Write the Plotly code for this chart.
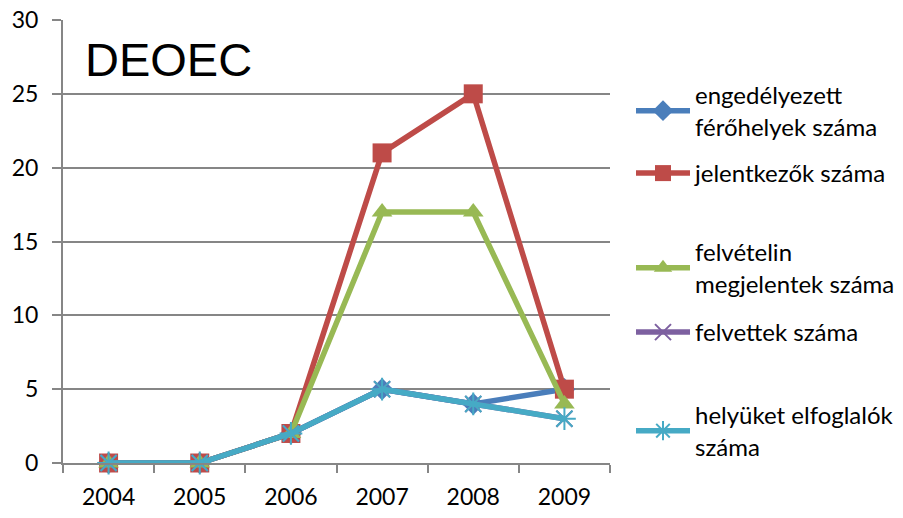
import plotly.graph_objects as go

years = ["2004", "2005", "2006", "2007", "2008", "2009"]
engedelyezett = [0, 0, 2, 5, 4, 5]
jelentkezok = [0, 0, 2, 21, 25, 5]
megjelentek = [0, 0, 2, 17, 17, 4]
felvettek = [0, 0, 2, 5, 4, 3]
elfoglalok = [0, 0, 2, 5, 4, 3]

names = ["engedélyezett<br>férőhelyek száma", "jelentkezők száma",
         "felvételin<br>megjelentek száma", "felvettek száma",
         "helyüket elfoglalók<br>száma"]
series = [engedelyezett, jelentkezok, megjelentek, felvettek, elfoglalok]
colors = ["#4A7EBB", "#BE4B48", "#98B954", "#7D60A0", "#46AAC5"]
symbols = ["diamond", "square", "triangle-up", "x-thin-open", "asterisk-open"]
msizes = [17, 19, 18, 16, 19]
legend_ids = ["legend", "legend2", "legend3", "legend4", "legend5"]

# body margin is removed in the page, so figure pixels equal screen pixels
OFF = 0
W, H = 903 - OFF, 518 - OFF
L, R, T, B = 63 - OFF, 293, 20 - OFF, 55
pw, ph = W - L - R, H - T - B

def px_x(sx):
    return (sx - OFF - L) / pw

def px_y(sy):
    return (H - B - (sy - OFF)) / ph

fig = go.Figure()
for name, vals, c, s, ms, lg in zip(names, series, colors, symbols, msizes, legend_ids):
    open_sym = s.endswith("open")
    fig.add_trace(go.Scatter(
        x=years, y=vals, name=name, mode="lines+markers",
        line=dict(color=c, width=5.5),
        marker=dict(symbol=s, size=ms, color=c,
                    line=dict(color=c, width=2 if open_sym else 0)),
        legend=lg, cliponaxis=False,
    ))

legend_tops = [73, 151, 230, 310, 393]
layout_legends = {}
for lg, top in zip(legend_ids, legend_tops):
    layout_legends[lg] = dict(
        x=px_x(631), y=px_y(top), xanchor="left", yanchor="top",
        font=dict(family="Lato", size=24, color="black"),
        bgcolor="rgba(0,0,0,0)", itemwidth=54, tracegroupgap=0,
    )

fig.update_layout(
    width=W, height=H,
    margin=dict(l=L, r=R, t=T, b=B, autoexpand=False),
    paper_bgcolor="white", plot_bgcolor="white",
    showlegend=True,
    **layout_legends,
    xaxis=dict(
        type="category", tickson="boundaries", ticks="outside", ticklen=8,
        tickcolor="#868686", tickwidth=2, automargin=False,
        showgrid=False, showline=True, linecolor="#868686", linewidth=2,
        tickfont=dict(family="Lato", size=23, color="black"),
        ticklabelstandoff=12, range=[-0.5, 5.5], ticklabeloverflow="allow",
    ),
    yaxis=dict(
        range=[0, 30], dtick=5, ticks="outside", ticklen=9,
        tickcolor="#868686", tickwidth=2, automargin=False,
        showgrid=True, gridcolor="#868686", gridwidth=2,
        showline=True, linecolor="#868686", linewidth=2,
        zeroline=False,
        tickfont=dict(family="Lato", size=23, color="black"),
        ticklabelstandoff=9, ticklabeloverflow="allow",
    ),
    annotations=[dict(
        text="DEOEC", xref="paper", yref="paper",
        x=px_x(83), y=px_y(60), xanchor="left", yanchor="middle",
        showarrow=False,
        font=dict(family="Liberation Sans", size=47, color="black"),
    )],
)

fig.write_html("out.html", config={"displayModeBar": False},
               post_script="document.body.style.margin='0';")
